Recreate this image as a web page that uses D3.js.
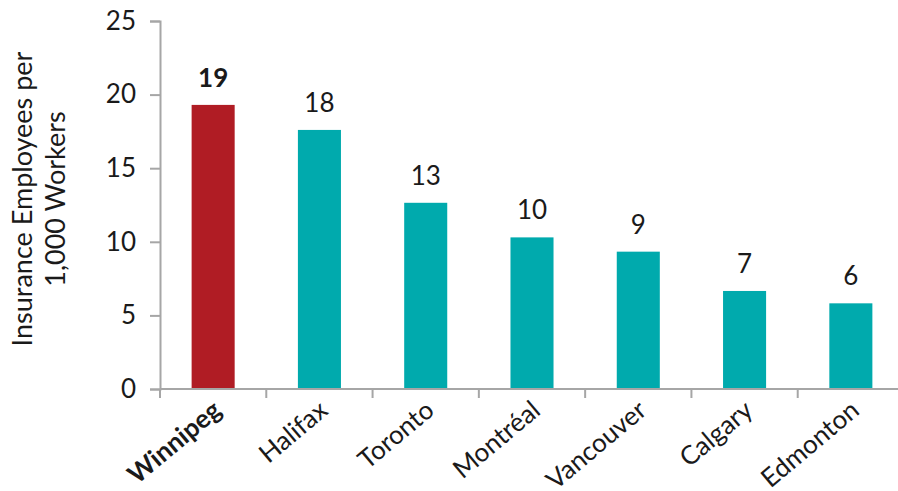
<!DOCTYPE html>
<html>
<head>
<meta charset="utf-8">
<script src="https://cdn.jsdelivr.net/npm/d3@7"></script>
<style>
  html, body { margin: 0; padding: 0; background: #fff; }
  svg { display: block; font-family: Lato, 'Open Sans', sans-serif; }
</style>
</head>
<body>
<div id="chart"></div>
<script>
  // Data
  const cities = ['Winnipeg', 'Halifax', 'Toronto', 'Montréal', 'Vancouver', 'Calgary', 'Edmonton'];
  const values = [19.3, 17.6, 12.65, 10.3, 9.33, 6.66, 5.82];
  const valueLabels = ['19', '18', '13', '10', '9', '7', '6'];
  const yTicks = [0, 5, 10, 15, 20, 25];
  const highlight = 'Winnipeg';

  const COLORS = {
    highlight: '#B01C24',
    bar: '#00AAAD',
    axis: '#A6A6A6',
    text: '#1a1a1a'
  };

  const W = 898, H = 491;
  const plot = { left: 160, right: 904, top: 21, bottom: 389 };

  const svg = d3.select('#chart').append('svg')
    .attr('width', W).attr('height', H);

  const x = d3.scaleBand()
    .domain(cities)
    .range([plot.left, plot.right])
    .paddingInner(0.595)
    .paddingOuter(0.2975);

  const y = d3.scaleLinear()
    .domain([0, 25])
    .range([plot.bottom, plot.top]);

  const data = cities.map((c, i) => ({ city: c, value: values[i], label: valueLabels[i] }));

  // Bars
  svg.append('g').selectAll('rect')
    .data(data)
    .join('rect')
    .attr('x', d => x(d.city))
    .attr('y', d => y(d.value))
    .attr('width', x.bandwidth())
    .attr('height', d => y(0) - y(d.value))
    .attr('fill', d => d.city === highlight ? COLORS.highlight : COLORS.bar);

  // Value labels
  svg.append('g').selectAll('text')
    .data(data)
    .join('text')
    .attr('x', d => x(d.city) + x.bandwidth() / 2)
    .attr('y', d => y(d.value) - 18)
    .attr('text-anchor', 'middle')
    .attr('fill', COLORS.text)
    .attr('font-size', '26px')
    .attr('font-weight', d => d.city === highlight ? 700 : 400)
    .text(d => d.label);

  // Y axis
  const yAxis = svg.append('g')
    .attr('transform', `translate(${plot.left},0)`)
    .call(d3.axisLeft(y).tickValues(yTicks).tickSize(10).tickPadding(14));
  yAxis.selectAll('text')
    .attr('fill', COLORS.text)
    .attr('font-size', '26px')
    .attr('font-family', 'Lato, sans-serif');

  // X axis: ticks at band boundaries
  const xAxis = svg.append('g')
    .attr('transform', `translate(0,${plot.bottom})`);
  xAxis.append('line')
    .attr('x1', plot.left).attr('x2', plot.right)
    .attr('y1', 0).attr('y2', 0);
  const step = x.step();
  const boundaries = cities.map((c, i) => plot.left + i * step);
  xAxis.selectAll('.xtick')
    .data(boundaries)
    .join('line')
    .attr('class', 'xtick')
    .attr('x1', d => d).attr('x2', d => d)
    .attr('y1', 0).attr('y2', 9);

  svg.selectAll('.domain, .tick line, g line')
    .attr('stroke', COLORS.axis)
    .attr('stroke-width', 2);

  // X labels (rotated)
  svg.append('g').selectAll('text')
    .data(data)
    .join('text')
    .attr('transform', d => `translate(${x(d.city) + x.bandwidth() / 2 + 10},${plot.bottom + 24}) rotate(-40)`)
    .attr('text-anchor', 'end')
    .attr('fill', COLORS.text)
    .attr('font-size', '26px')
    .attr('font-weight', d => d.city === highlight ? 700 : 400)
    .text(d => d.city);

  // Y axis title
  const title = svg.append('text')
    .attr('transform', `translate(0,199) rotate(-90)`)
    .attr('text-anchor', 'middle')
    .attr('fill', COLORS.text)
    .attr('font-size', '27px');
  title.append('tspan').attr('x', 0).attr('y', 32).text('Insurance Employees per');
  title.append('tspan').attr('x', 0).attr('y', 65).text('1,000 Workers');
</script>
</body>
</html>
